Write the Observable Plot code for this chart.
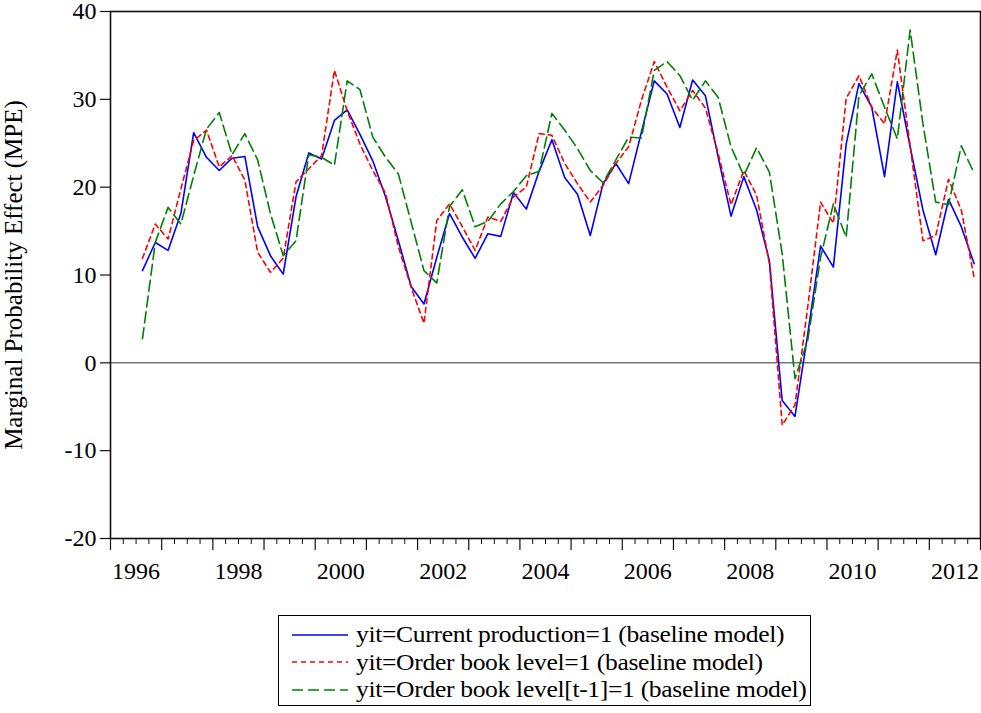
<!DOCTYPE html>
<html>
<head>
<meta charset="utf-8">
<script src="https://cdn.jsdelivr.net/npm/d3@7"></script>
<script src="https://cdn.jsdelivr.net/npm/@observablehq/plot@0.6"></script>
<style>
  html, body { margin: 0; padding: 0; background: #fff; }
  #wrap { position: relative; width: 981px; height: 713px; font-family: "Liberation Serif", "Times New Roman", Times, "DejaVu Serif", serif; }
  #legend { position: absolute; left: 278px; top: 615px; width: 533px; height: 91px; border: 1px solid #000; box-sizing: border-box; padding-top: 5px; }
  .row { display: flex; align-items: center; height: 27.5px; font-size: 24px; color: #000; white-space: nowrap; letter-spacing: -0.3px; }
  .row svg { margin-left: 13px; margin-right: 8px; flex: none; }
  .row span { display: inline-block; transform: scaleX(1.065); transform-origin: left center; }
  svg text { font-family: "Liberation Serif", "Times New Roman", Times, "DejaVu Serif", serif; }
</style>
</head>
<body>
<div id="wrap">
  <div id="chart"></div>
  <div id="legend"></div>
</div>
<script>
const quarters = [
  "1996Q3","1996Q4",
  "1997Q1","1997Q2","1997Q3","1997Q4",
  "1998Q1","1998Q2","1998Q3","1998Q4",
  "1999Q1","1999Q2","1999Q3","1999Q4",
  "2000Q1","2000Q2","2000Q3","2000Q4",
  "2001Q1","2001Q2","2001Q3","2001Q4",
  "2002Q1","2002Q2","2002Q3","2002Q4",
  "2003Q1","2003Q2","2003Q3","2003Q4",
  "2004Q1","2004Q2","2004Q3","2004Q4",
  "2005Q1","2005Q2","2005Q3","2005Q4",
  "2006Q1","2006Q2","2006Q3","2006Q4",
  "2007Q1","2007Q2","2007Q3","2007Q4",
  "2008Q1","2008Q2","2008Q3","2008Q4",
  "2009Q1","2009Q2","2009Q3","2009Q4",
  "2010Q1","2010Q2","2010Q3","2010Q4",
  "2011Q1","2011Q2","2011Q3","2011Q4",
  "2012Q1","2012Q2","2012Q3","2012Q4"
];

const currentProduction = [
  10.5, 13.7,
  12.8, 17.0, 26.2, 23.4,
  21.9, 23.3, 23.5, 15.5,
  12.2, 10.1, 18.9, 23.9,
  23.2, 27.6, 28.8, 26.0,
  23.0, 18.9, 13.9, 8.7,
  6.7, 12.0, 17.0, 14.3,
  11.9, 14.7, 14.4, 19.4,
  17.5, 21.8, 25.4, 21.1,
  19.2, 14.5, 20.4, 22.7,
  20.4, 26.3, 32.1, 30.6,
  26.8, 32.2, 30.4, 23.4,
  16.7, 21.2, 17.4, 11.6,
  -4.3, -6.1, 3.3, 13.3,
  10.9, 24.9, 31.8, 29.1,
  21.2, 32.0, 24.6, 17.4,
  12.3, 18.6, 15.5, 11.3
];

const orderBook = [
  11.9, 15.8,
  14.1, 19.8, 25.3, 26.5,
  22.3, 23.6, 20.8, 12.6,
  10.3, 11.9, 20.6, 22.1,
  23.6, 33.3, 28.7, 24.9,
  21.9, 19.3, 13.2, 8.6,
  4.5, 16.2, 18.1, 15.5,
  12.8, 16.6, 16.1, 18.9,
  20.0, 26.1, 25.9, 22.7,
  20.4, 18.3, 20.2, 22.7,
  24.6, 29.9, 34.3, 31.4,
  28.7, 31.0, 29.0, 23.8,
  18.0, 21.9, 19.1, 11.3,
  -7.1, -4.8, 6.4, 18.3,
  15.9, 30.1, 32.7, 29.1,
  27.2, 35.6, 24.7, 13.9,
  14.5, 20.9, 17.4, 9.7
];

const orderBookLag = [
  2.75, 13.7,
  17.7, 15.8, 21.3, 26.6,
  28.5, 23.7, 26.1, 23.1,
  17.0, 12.2, 13.9, 23.7,
  23.4, 22.5, 32.1, 31.1,
  25.7, 23.4, 21.5, 16.0,
  10.5, 9.1, 17.8, 19.7,
  15.5, 16.1, 18.1, 19.5,
  21.3, 21.8, 28.4, 26.5,
  24.4, 21.9, 20.5, 23.1,
  25.7, 25.6, 33.3, 34.3,
  32.7, 29.9, 32.1, 30.2,
  24.6, 21.3, 24.5, 21.7,
  12.4, -1.8, 2.6, 12.0,
  18.1, 14.3, 30.4, 32.9,
  29.1, 25.5, 37.9, 27.2,
  18.3, 18.0, 24.7, 21.6
];

const seriesNames = [
  "yit=Current production=1 (baseline model)",
  "yit=Order book level=1 (baseline model)",
  "yit=Order book level[t-1]=1 (baseline model)"
];
const seriesColors = ["#0000ff", "#ff0000", "#008000"];
const seriesDash = [null, "5,4", "11,5"];

const yTicks = [-20, -10, 0, 10, 20, 30, 40];
const yearTicks = [1996,1997,1998,1999,2000,2001,2002,2003,2004,2005,2006,2007,2008,2009,2010,2011,2012,2013];
const yearLabels = [1996, 1998, 2000, 2002, 2004, 2006, 2008, 2010, 2012];

// quarter label -> decimal time at centre of the quarter
const qTime = s => +s.slice(0, 4) + (+s.slice(5) - 1) / 4 + 0.125;
const quarterTicks = [];
for (const y of yearTicks.slice(0, -1)) for (const q of [0.25, 0.5, 0.75]) quarterTicks.push(y + q);

const allSeries = [currentProduction, orderBook, orderBookLag];
const rows = [];
allSeries.forEach((vals, k) => vals.forEach((v, i) => rows.push({t: qTime(quarters[i]), v, s: seriesNames[k]})));

const fontFamily = '"Liberation Serif", "Times New Roman", Times, "DejaVu Serif", serif';

const chart = Plot.plot({
  width: 981,
  height: 600,
  marginLeft: 110,
  marginRight: 1,
  marginTop: 11,
  marginBottom: 62,
  style: {fontFamily, fontSize: "24px", color: "#000", background: "#fff", overflow: "visible"},
  x: {domain: [1996, 2013], label: null},
  y: {domain: [-20, 40], label: null},
  marks: [
    Plot.ruleY([0], {stroke: "#333", strokeWidth: 1}),
    ...seriesNames.map((name, k) =>
      Plot.line(rows.filter(d => d.s === name), {
        x: "t", y: "v",
        stroke: seriesColors[k],
        strokeWidth: 1.6,
        strokeDasharray: seriesDash[k]
      })
    ),
    Plot.frame({stroke: "#111", strokeWidth: 1.6}),
    Plot.axisY({
      ticks: yTicks, tickSize: 10, tickPadding: 4, tickFormat: d => d,
      stroke: "#111", strokeWidth: 1.2,
      label: "Marginal Probability Effect (MPE)", labelAnchor: "center", labelArrow: "none", labelOffset: 106,
      fontSize: 25
    }),
    Plot.axisX({ticks: yearTicks, tickSize: 12, tickFormat: () => "", stroke: "#111", strokeWidth: 1.2}),
    Plot.axisX({ticks: quarterTicks, tickSize: 6, tickFormat: () => "", stroke: "#111", strokeWidth: 1}),
    Plot.axisX(yearLabels.map(y => y + 0.5), {tickSize: 0, tickPadding: 23, tickFormat: d => String(Math.floor(d)), fontSize: 24})
  ]
});
document.getElementById("chart").appendChild(chart);
// keep tick labels at 24px while the axis title is 25px
chart.querySelectorAll("[aria-label='y-axis tick label'] text").forEach(t => t.setAttribute("font-size", 24));

// legend
const legend = document.getElementById("legend");
seriesNames.forEach((name, k) => {
  const row = document.createElement("div");
  row.className = "row";
  const ns = "http://www.w3.org/2000/svg";
  const sw = document.createElementNS(ns, "svg");
  sw.setAttribute("width", 56); sw.setAttribute("height", 10);
  const ln = document.createElementNS(ns, "line");
  ln.setAttribute("x1", 0); ln.setAttribute("x2", 56); ln.setAttribute("y1", 5); ln.setAttribute("y2", 5);
  ln.setAttribute("stroke", seriesColors[k]); ln.setAttribute("stroke-width", 1.6);
  if (seriesDash[k]) ln.setAttribute("stroke-dasharray", seriesDash[k]);
  sw.appendChild(ln);
  row.appendChild(sw);
  const span = document.createElement("span");
  span.textContent = name;
  row.appendChild(span);
  legend.appendChild(row);
});
</script>
</body>
</html>
